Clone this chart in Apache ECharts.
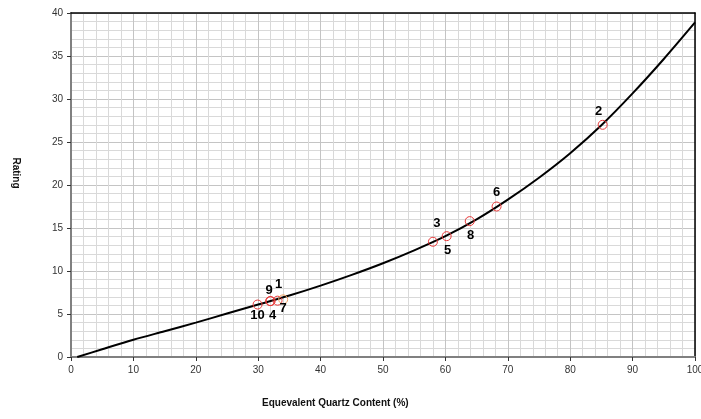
<!DOCTYPE html>
<html>
<head>
<meta charset="utf-8">
<script src="https://cdn.jsdelivr.net/npm/echarts@6/dist/echarts.min.js"></script>
<style>html,body{margin:0;padding:0;background:#fff;}#c{width:701px;height:419px;}</style>
</head>
<body>
<div id="c"></div>
<script>
// Curve
const curveX = [1, 5, 10, 15, 20, 25, 30, 35, 40, 45, 50, 55, 60, 65, 70, 75, 80, 85, 90, 95, 100];
const curveY = [0, 0.9, 2.0, 3.0, 4.0, 5.05, 6.1, 7.15, 8.3, 9.55, 10.9, 12.4, 14.05, 16.0, 18.3, 20.85, 23.7, 26.95, 30.65, 34.65, 38.9];
// Sample points
const pointIds = ['10', '4', '9', '1', '7', '3', '5', '8', '6', '2'];
const pointX = [29.9, 32.0, 31.9, 33.1, 34.0, 58.0, 60.2, 63.9, 68.2, 85.2];
const pointY = [6.1, 6.5, 6.5, 6.55, 6.7, 13.4, 14.05, 15.8, 17.5, 27.0];
// Axis ticks
const xTicks = [0, 10, 20, 30, 40, 50, 60, 70, 80, 90, 100];
const yTicks = [0, 5, 10, 15, 20, 25, 30, 35, 40];

// label placement styling (pixels)
const labelOffsets = {
  '10': [0, 11], '4': [2, 14], '9': [-1, -11], '1': [1, -16], '7': [0, 9],
  '3': [4, -18], '5': [1, 14], '8': [1, 14], '6': [0, -14], '2': [-4, -13]
};
const specialColor = { '7': '#f0a060' };

const chart = echarts.init(document.getElementById('c'), null, { renderer: 'canvas' });
const curveData = curveX.map((x, i) => [x, curveY[i]]);
const pts = pointIds.map((id, i) => ({
  value: [pointX[i], pointY[i]],
  name: id,
  itemStyle: { borderColor: specialColor[id] || '#e83a3a' },
  label: { offset: labelOffsets[id] }
}));

const tickFont = { color: '#333', fontSize: 10, fontFamily: 'Liberation Sans, Arial', margin: 8 };
const borderAxis = {
  type: 'value', axisLine: { show: true, onZero: false, lineStyle: { color: '#000', width: 1.5 } },
  axisTick: { show: false }, axisLabel: { show: false }, splitLine: { show: false }
};

const option = {
  animation: false,
  grid: { left: 71, right: 6, top: 13, bottom: 62, outerBoundsMode: 'none', containLabel: false },
  xAxis: [{
    type: 'value', min: xTicks[0], max: xTicks[xTicks.length - 1], interval: 10,
    axisLine: { show: true, lineStyle: { color: '#808080', width: 2 } },
    axisTick: { show: true, length: 4, lineStyle: { color: '#333' } },
    axisLabel: tickFont,
    splitLine: { show: true, lineStyle: { color: '#c4c4c4', width: 1 } },
    minorTick: { show: true, splitNumber: 5, length: 0 },
    minorSplitLine: { show: true, lineStyle: { color: '#d9d9d9', width: 1 } }
  }, Object.assign({ position: 'top', min: xTicks[0], max: xTicks[xTicks.length - 1] }, borderAxis)],
  yAxis: [{
    type: 'value', min: yTicks[0], max: yTicks[yTicks.length - 1], interval: 5,
    axisLine: { show: true, lineStyle: { color: '#808080', width: 2 } },
    axisTick: { show: true, length: 4, lineStyle: { color: '#333' } },
    axisLabel: tickFont,
    splitLine: { show: true, lineStyle: { color: '#c4c4c4', width: 1 } },
    minorTick: { show: true, splitNumber: 5, length: 0 },
    minorSplitLine: { show: true, lineStyle: { color: '#d9d9d9', width: 1 } }
  }, Object.assign({ position: 'right', min: yTicks[0], max: yTicks[yTicks.length - 1] }, borderAxis)],
  graphic: [
    { type: 'text', left: 262, top: 398, style: { text: 'Equevalent Quartz Content (%)', font: 'bold 10px "Liberation Sans", Arial', fill: '#111' } },
    { type: 'text', x: 16, y: 173, rotation: -Math.PI / 2, style: { text: 'Rating', font: 'bold 10px "Liberation Sans", Arial', fill: '#111', align: 'center', verticalAlign: 'middle' } }
  ],
  series: [
    {
      type: 'line', data: curveData, smooth: 0.3, showSymbol: false, symbol: 'none',
      lineStyle: { color: '#000', width: 2 }, z: 3
    },
    {
      type: 'scatter', data: pts, symbol: 'circle', symbolSize: 9,
      itemStyle: { color: 'transparent', borderColor: '#e83a3a', borderWidth: 1, opacity: 1 },
      label: { show: true, position: 'inside', formatter: p => p.name, color: '#000', fontSize: 13, fontFamily: 'Liberation Sans', fontWeight: 'bold' },
      z: 4
    }
  ]
};
chart.setOption(option);
</script>
</body>
</html>
